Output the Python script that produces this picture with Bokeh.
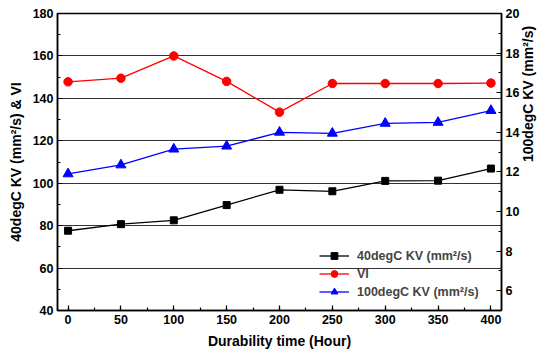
import math
from bokeh.plotting import figure
from bokeh.models import Range1d, LinearAxis, FixedTicker, Legend, LegendItem, Label
from bokeh.embed import file_html
from bokeh.resources import INLINE

hours = [0, 50, 100, 150, 200, 250, 300, 350, 400]
kv40 = [77.6, 80.7, 82.5, 89.7, 96.9, 96.2, 101.1, 101.2, 106.9]
vi = [147.8, 149.5, 160.0, 148.0, 133.5, 147.0, 147.0, 147.0, 147.2]
kv100 = [11.9, 12.35, 13.15, 13.3, 14.0, 13.95, 14.45, 14.5, 15.1]

left_ticks = [40, 60, 80, 100, 120, 140, 160, 180]
right_ticks = [6, 8, 10, 12, 14, 16, 18, 20]
x_ticks = [0, 50, 100, 150, 200, 250, 300, 350, 400]

FONT = "Liberation Sans"

p = figure(width=548, height=351, output_backend="svg", toolbar_location=None,
           x_range=Range1d(-10, 410), y_range=Range1d(40, 180),
           min_border_left=57, min_border_right=47, min_border_top=13, min_border_bottom=40)
p.extra_y_ranges = {"r": Range1d(5, 20)}

p.outline_line_color = "black"
p.outline_line_width = 1.5
p.xgrid.visible = False
p.ygrid.ticker = FixedTicker(ticks=[60, 80, 100, 120, 140, 160])
p.ygrid.grid_line_color = "#333333"
p.ygrid.grid_line_width = 1.2

def style_axis(ax, ticks, minor):
    ax.ticker = FixedTicker(ticks=ticks, minor_ticks=minor)
    ax.axis_line_width = 1.5
    ax.major_tick_in = 5
    ax.major_tick_out = 0
    ax.minor_tick_in = 3
    ax.minor_tick_out = 0
    ax.major_tick_line_width = 1.2
    ax.minor_tick_line_width = 1.2
    ax.major_label_text_font = FONT
    ax.major_label_text_font_style = "bold"
    ax.major_label_text_font_size = "12.5px"
    ax.major_label_text_color = "black"
    ax.axis_label_text_font = FONT
    ax.axis_label_text_font_style = "bold"
    ax.axis_label_text_font_size = "14px"
    ax.axis_label_text_color = "black"
    ax.major_label_standoff = 4
    ax.axis_label_standoff = 6

style_axis(p.xaxis[0], x_ticks, list(range(-0, 425, 25)))
p.xaxis[0].axis_label = "Durability time (Hour)"
style_axis(p.yaxis[0], left_ticks, list(range(40, 181, 10)))
p.yaxis[0].axis_label = "40degC KV (mm\u00b2/s) & VI"

rax = LinearAxis(y_range_name="r")
style_axis(rax, right_ticks, list(range(5, 21, 1)))
rax.axis_label = "100degC KV (mm\u00b2/s)"
try:
    rax.axis_label_orientation = math.pi / 2
except Exception:
    rax.axis_label = None
    rlabel = Label(x=478, y=149, x_units="screen", y_units="screen",
                   text="100degC KV (mm\u00b2/s)", angle=math.pi / 2,
                   text_align="center", text_baseline="middle",
                   text_font=FONT, text_font_style="bold", text_font_size="14px",
                   text_color="black")
    p.add_layout(rlabel, "right")
p.add_layout(rax, "right")

l1 = p.line(hours, kv40, line_color="black", line_width=1.3)
m1 = p.scatter(hours, kv40, marker="square", size=7, color="black")
l2 = p.line(hours, vi, line_color="red", line_width=1.3)
m2 = p.scatter(hours, vi, marker="circle", size=8.5, color="red")
l3 = p.line(hours, kv100, line_color="blue", line_width=1.3, y_range_name="r")
m3 = p.scatter(hours, kv100, marker="triangle", size=10, color="blue", y_range_name="r")

legend = Legend(items=[
    LegendItem(label="40degC KV (mm\u00b2/s)", renderers=[l1, m1]),
    LegendItem(label="VI", renderers=[l2, m2]),
    LegendItem(label="100degC KV (mm\u00b2/s)", renderers=[l3, m3]),
], location=(262, 10))
legend.background_fill_alpha = 0
legend.border_line_alpha = 0
legend.padding = 0
legend.margin = 0
legend.spacing = 1
legend.glyph_width = 30
legend.glyph_height = 17
legend.label_height = 17
legend.label_standoff = 8
legend.label_text_font = FONT
legend.label_text_font_style = "bold"
legend.label_text_font_size = "12.5px"
p.add_layout(legend, "center")

open("out.html", "w").write(file_html(p, INLINE))
